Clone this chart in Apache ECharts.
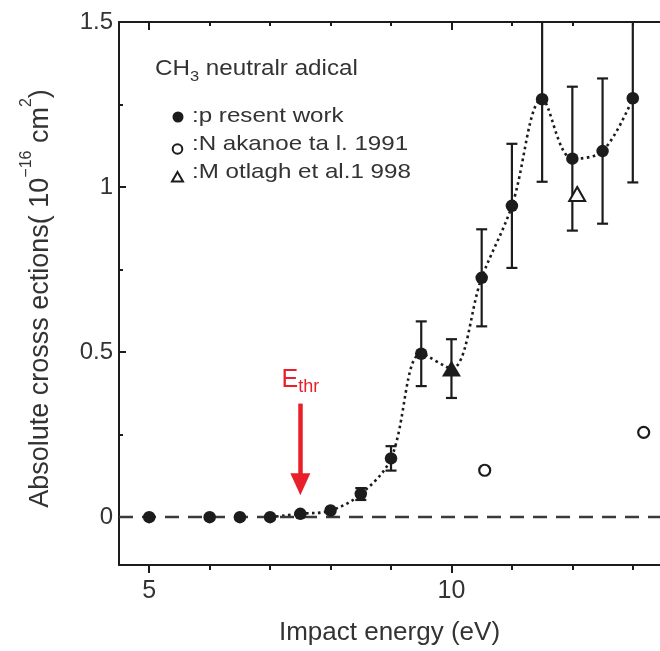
<!DOCTYPE html>
<html>
<head>
<meta charset="utf-8">
<script src="https://cdn.jsdelivr.net/npm/echarts@6/dist/echarts.min.js"></script>
<style>
  html, body { margin: 0; padding: 0; background: #fff; }
  #chart { width: 660px; height: 651px; }
</style>
</head>
<body>
<div id="chart"></div>
<script>
// Present work: impact energy (eV), cross section (1e-16 cm^2), error half-width
const presentX   = [5, 6, 6.5, 7, 7.5, 8, 8.5, 9, 9.5, 10.5, 11, 11.5, 12, 12.5, 13];
const presentY   = [0, 0, 0, 0, 0.01, 0.02, 0.07, 0.178, 0.495, 0.725, 0.943, 1.266, 1.086, 1.109, 1.269];
const presentErr = [0, 0, 0, 0, 0, 0, 0.018, 0.037, 0.098, 0.147, 0.188, 0.25, 0.218, 0.22, 0.255];

// Present work, triangle point
const triX = [10];
const triY = [0.45];
const triErr = [0.089];

// Nakanoe et al. 1991
const nakanoeX = [10.55, 13.18];
const nakanoeY = [0.142, 0.257];

// Motlagh et al. 1998
const motlaghX = [12.08];
const motlaghY = [0.979];

// Threshold energy
const eThr = 7.5;

// Axis ticks
const xMajorTicks = [5, 10];
const xMinorTicks = [6, 7, 8, 9, 11, 12, 13];
const yMajorTicks = [0, 0.5, 1, 1.5];
const yMinorTicks = [0.25, 0.75, 1.25];

const INK = '#1c1c1c';
const TEXT = '#333333';
const RED = '#e8202a';
const FONT = '"Liberation Sans", Arial, Helvetica, sans-serif';

const pairs = (xs, ys) => xs.map((x, i) => [x, ys[i]]);

const errData = presentX.map((x, i) => [x, presentY[i] - presentErr[i], presentY[i] + presentErr[i]])
  .filter((d, i) => presentErr[i] > 0)
  .concat(triX.map((x, i) => [x, triY[i] - triErr[i], triY[i] + triErr[i]]));

// Dotted guide curve through the measured points above threshold
const curveData = pairs(presentX, presentY)
  .concat(pairs(triX, triY))
  .filter(d => d[0] >= 7)
  .sort((a, b) => a[0] - b[0]);

const xBase = { type: 'value', min: 4.5, max: 13.45, splitLine: { show: false } };
const yBase = { type: 'value', min: -0.145, max: 1.5, splitLine: { show: false } };

const chart = echarts.init(document.getElementById('chart'), null, { renderer: 'canvas' });

chart.setOption({
  animation: false,
  backgroundColor: '#fff',
  textStyle: { fontFamily: FONT },
  grid: { left: 119, top: 22, right: -9, bottom: 84, containLabel: false },
  xAxis: [
    Object.assign({}, xBase, {
      position: 'bottom',
      axisLine: { show: true, onZero: false, lineStyle: { color: INK, width: 2 } },
      axisTick: { show: true, inside: false, length: 8, lineStyle: { color: INK, width: 2 }, customValues: xMajorTicks },
      axisLabel: { show: true, customValues: xMajorTicks, fontSize: 25, color: TEXT, margin: 14, fontFamily: FONT },
      name: 'Impact energy (eV)',
      nameLocation: 'middle',
      nameGap: 55,
      nameTextStyle: { fontSize: 26, color: TEXT, fontFamily: FONT }
    }),
    Object.assign({}, xBase, {
      position: 'bottom',
      axisLine: { show: false, onZero: false },
      axisTick: { show: true, inside: false, length: 5, lineStyle: { color: INK, width: 2 }, customValues: xMinorTicks },
      axisLabel: { show: false }
    }),
    Object.assign({}, xBase, {
      position: 'top',
      axisLine: { show: true, onZero: false, lineStyle: { color: INK, width: 2 } },
      axisTick: { show: true, inside: true, length: 8, lineStyle: { color: INK, width: 2 }, customValues: xMajorTicks },
      axisLabel: { show: false }
    }),
    Object.assign({}, xBase, {
      position: 'top',
      axisLine: { show: false, onZero: false },
      axisTick: { show: true, inside: true, length: 4, lineStyle: { color: INK, width: 2 }, customValues: xMinorTicks },
      axisLabel: { show: false }
    })
  ],
  yAxis: [
    Object.assign({}, yBase, {
      position: 'left',
      axisLine: { show: true, onZero: false, lineStyle: { color: INK, width: 2 } },
      axisTick: { show: true, inside: true, length: 7, lineStyle: { color: INK, width: 2 }, customValues: yMajorTicks },
      axisLabel: {
        show: true, customValues: yMajorTicks, fontSize: 24, color: TEXT, margin: 6, fontFamily: FONT,
        formatter: v => String(v)
      },
      name: '{a|Absolute crosss ections( 10}{s|\u221216}{a| cm}{s|2}{a|)}',
      nameLocation: 'middle',
      nameRotate: 90,
      nameGap: 56,
      nameTextStyle: {
        color: TEXT,
        fontFamily: FONT,
        padding: [0, 10, 0, 0],
        rich: {
          a: { fontSize: 27, lineHeight: 44, color: TEXT, fontFamily: FONT },
          s: { fontSize: 16, lineHeight: 7, verticalAlign: 'top', color: TEXT, fontFamily: FONT }
        }
      }
    }),
    Object.assign({}, yBase, {
      position: 'left',
      axisLine: { show: false, onZero: false },
      axisTick: { show: true, inside: true, length: 4, lineStyle: { color: INK, width: 2 }, customValues: yMinorTicks },
      axisLabel: { show: false }
    })
  ],
  series: [
    {
      name: 'error bars',
      type: 'custom',
      clip: true,
      silent: true,
      z: 3,
      data: errData,
      renderItem: function (params, api) {
        const x = api.value(0);
        const lo = api.coord([x, api.value(1)]);
        const hi = api.coord([x, api.value(2)]);
        const cap = 5.5;
        const style = { stroke: INK, lineWidth: 2.2, fill: null };
        return {
          type: 'group',
          children: [
            { type: 'line', shape: { x1: lo[0], y1: lo[1], x2: hi[0], y2: hi[1] }, style: style },
            { type: 'line', shape: { x1: lo[0] - cap, y1: lo[1], x2: lo[0] + cap, y2: lo[1] }, style: style },
            { type: 'line', shape: { x1: hi[0] - cap, y1: hi[1], x2: hi[0] + cap, y2: hi[1] }, style: style }
          ]
        };
      }
    },
    {
      name: 'curve',
      type: 'line',
      data: curveData,
      smooth: 0.35,
      showSymbol: false,
      silent: true,
      z: 2,
      lineStyle: { color: INK, width: 2.6, type: [2.6, 3.4], opacity: 1 }
    },
    {
      name: 'present work',
      type: 'scatter',
      data: pairs(presentX, presentY),
      symbol: 'circle',
      symbolSize: 12.5,
      itemStyle: { color: INK, opacity: 1 },
      z: 5,
      markLine: {
        silent: true,
        animation: false,
        symbol: ['none', 'none'],
        label: { show: false },
        data: [
          {
            yAxis: 0,
            lineStyle: { color: '#3a3a3a', width: 2.4, type: [14, 9] }
          },
          [
            {
              coord: [eThr, 0.344],
              symbol: 'none',
              label: {
                show: true,
                position: 'start',
                distance: 8,
                formatter: '{e|E}{t|thr}',
                rich: {
                  e: { fontSize: 25, color: RED, fontFamily: FONT, lineHeight: 30 },
                  t: { fontSize: 18, color: RED, fontFamily: FONT, lineHeight: 15, verticalAlign: 'bottom' }
                }
              },
              lineStyle: { color: RED, width: 4.5, type: 'solid' }
            },
            {
              coord: [eThr, 0.1],
              symbol: 'triangle',
              symbolSize: [20, 22],
              itemStyle: { color: RED }
            }
          ]
        ]
      }
    },
    {
      name: 'present work (triangle)',
      type: 'scatter',
      data: pairs(triX, triY),
      symbol: 'triangle',
      symbolSize: [19, 16],
      itemStyle: { color: INK, opacity: 1 },
      z: 5
    },
    {
      name: 'Nakanoe et al. 1991',
      type: 'scatter',
      data: pairs(nakanoeX, nakanoeY),
      symbol: 'circle',
      symbolSize: 11,
      itemStyle: { color: '#fff', borderColor: INK, borderWidth: 2.2, opacity: 1 },
      z: 5
    },
    {
      name: 'Motlagh et al. 1998',
      type: 'scatter',
      data: pairs(motlaghX, motlaghY),
      symbol: 'triangle',
      symbolSize: [16, 14],
      itemStyle: { color: '#fff', borderColor: INK, borderWidth: 2, opacity: 1 },
      z: 5
    }
  ],
  graphic: [
    {
      type: 'text', x: 155, y: 54, scaleX: 1.1,
      style: {
        text: 'CH{sub|3} neutralr adical',
        fill: TEXT, fontSize: 22, fontFamily: FONT, lineHeight: 30, verticalAlign: 'top',
        rich: {
          sub: { fontSize: 15, fill: TEXT, fontFamily: FONT, verticalAlign: 'bottom', lineHeight: 15 }
        }
      }
    },
    { type: 'circle', shape: { cx: 178, cy: 117, r: 5.5 }, style: { fill: INK } },
    { type: 'text', x: 192, y: 116.6, scaleX: 1.15, style: { text: ':p resent work', fill: TEXT, fontSize: 21, fontFamily: FONT, verticalAlign: 'middle' } },
    { type: 'circle', shape: { cx: 177.5, cy: 149, r: 4.8 }, style: { fill: '#fff', stroke: INK, lineWidth: 2 } },
    { type: 'text', x: 192, y: 144.6, scaleX: 1.15, style: { text: ':N akanoe ta l. 1991', fill: TEXT, fontSize: 21, fontFamily: FONT, verticalAlign: 'middle' } },
    { type: 'polygon', shape: { points: [[177.5, 172], [183, 181.5], [172, 181.5]] }, style: { fill: '#fff', stroke: INK, lineWidth: 2 } },
    { type: 'text', x: 192, y: 172.6, scaleX: 1.15, style: { text: ':M otlagh et al.1 998', fill: TEXT, fontSize: 21, fontFamily: FONT, verticalAlign: 'middle' } }
  ]
});
</script>
</body>
</html>
